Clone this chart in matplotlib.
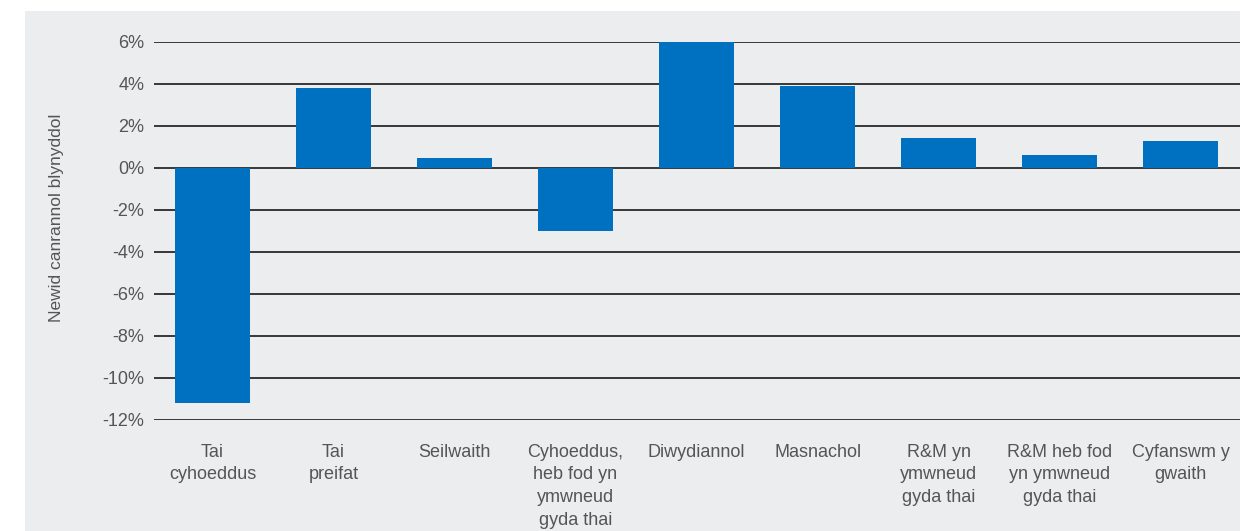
import numpy as np
import matplotlib.pyplot as plt
from matplotlib.patches import Rectangle

plt.rcParams['font.family'] = ['Liberation Sans', 'DejaVu Sans']

categories = ['Tai\ncyhoeddus', 'Tai\npreifat', 'Seilwaith',
              'Cyhoeddus,\nheb fod yn\nymwneud\ngyda thai', 'Diwydiannol',
              'Masnachol', 'R&M yn\nymwneud\ngyda thai',
              'R&M heb fod\nyn ymwneud\ngyda thai', 'Cyfanswm y\ngwaith']
values = [-11.2, 3.8, 0.5, -3.0, 6.0, 3.9, 1.45, 0.6, 1.3]
yticks = [6, 4, 2, 0, -2, -4, -6, -8, -10, -12]

W, H = 1240, 531
fig = plt.figure(figsize=(W / 100, H / 100), dpi=100, facecolor='white')
# grey panel behind the chart
fig.patches.append(Rectangle((25 / W, 0), 1 - 25 / W, 1 - 11 / H,
                             transform=fig.transFigure, facecolor='#ecedef',
                             edgecolor='none', zorder=-10))

ax = fig.add_axes([154 / W, 1 - 420 / H, 1 - 154 / W, 378 / H])
ax.set_zorder(1)
ax.set_facecolor('none')
x = np.arange(len(categories))
ax.bar(x, values, width=0.62, color='#0070c0', zorder=3)

ax.set_ylim(-12, 6)
ax.set_xlim(-0.483, 8.49)
ax.set_yticks(yticks)
ax.set_yticklabels([f'{v}%' for v in yticks])
ax.yaxis.grid(True, color='#2a2a2a', linewidth=1.3, zorder=1)
ax.set_axisbelow(True)
ax.set_xticks(x)
ax.set_xticklabels(categories, linespacing=1.45, va='top')
for s in ax.spines.values():
    s.set_visible(False)
ax.tick_params(axis='y', length=0, pad=7, labelsize=13, labelcolor='#555555')
ax.tick_params(axis='x', length=0, pad=17, labelsize=13, labelcolor='#555555')

fig.text(57 / W, 1 - 218 / H, 'Newid canrannol blynyddol', rotation=90,
         ha='center', va='center', fontsize=12.5, color='#555555')

fig.savefig('out.png', dpi=100, facecolor='white')
